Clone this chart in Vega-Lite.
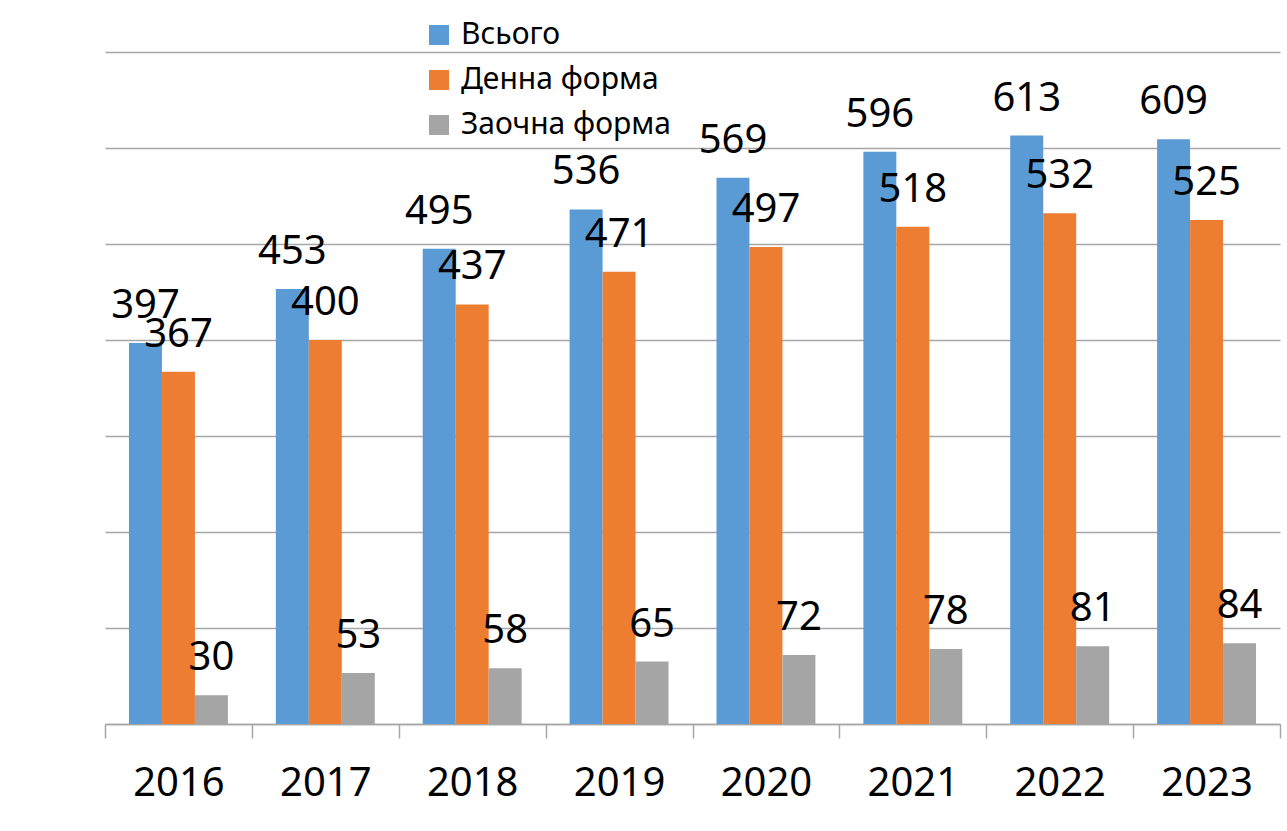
{
  "$schema": "https://vega.github.io/schema/vega-lite/v6.json",
  "autosize": {"type": "none"},
  "padding": {"left": 105, "top": 52, "right": 7, "bottom": 107},
  "width": 1175,
  "height": 672,
  "background": "white",
  "config": {
    "font": "Noto Sans",
    "view": {"stroke": null}
  },
  "data": {
    "values": [
      {"year": "2016", "series": "Всього", "value": 397},
      {"year": "2016", "series": "Денна форма", "value": 367},
      {"year": "2016", "series": "Заочна форма", "value": 30},
      {"year": "2017", "series": "Всього", "value": 453},
      {"year": "2017", "series": "Денна форма", "value": 400},
      {"year": "2017", "series": "Заочна форма", "value": 53},
      {"year": "2018", "series": "Всього", "value": 495},
      {"year": "2018", "series": "Денна форма", "value": 437},
      {"year": "2018", "series": "Заочна форма", "value": 58},
      {"year": "2019", "series": "Всього", "value": 536},
      {"year": "2019", "series": "Денна форма", "value": 471},
      {"year": "2019", "series": "Заочна форма", "value": 65},
      {"year": "2020", "series": "Всього", "value": 569},
      {"year": "2020", "series": "Денна форма", "value": 497},
      {"year": "2020", "series": "Заочна форма", "value": 72},
      {"year": "2021", "series": "Всього", "value": 596},
      {"year": "2021", "series": "Денна форма", "value": 518},
      {"year": "2021", "series": "Заочна форма", "value": 78},
      {"year": "2022", "series": "Всього", "value": 613},
      {"year": "2022", "series": "Денна форма", "value": 532},
      {"year": "2022", "series": "Заочна форма", "value": 81},
      {"year": "2023", "series": "Всього", "value": 609},
      {"year": "2023", "series": "Денна форма", "value": 525},
      {"year": "2023", "series": "Заочна форма", "value": 84}
    ]
  },
  "encoding": {
    "x": {
      "field": "year", "type": "nominal", "title": null,
      "scale": {"paddingInner": 0, "paddingOuter": 0},
      "axis": {
        "labelAngle": 0, "labelFontSize": 40, "labelColor": "black",
        "labelPadding": 25, "tickSize": 14, "tickColor": "#A6A6A6",
        "tickBand": "extent", "domainColor": "#A6A6A6", "domainWidth": 1.5, "tickWidth": 1.5,
        "grid": false
      }
    },
    "xOffset": {
      "field": "series", "type": "nominal",
      "sort": ["Всього", "Денна форма", "Заочна форма"],
      "scale": {"paddingInner": 0, "paddingOuter": 0.727}
    },
    "y": {
      "field": "value", "type": "quantitative", "title": null,
      "scale": {"domain": [0, 700], "nice": false},
      "axis": {
        "values": [0, 100, 200, 300, 400, 500, 600, 700],
        "labels": false, "ticks": false, "domain": false,
        "grid": true, "gridColor": "#A6A6A6", "gridWidth": 1.5
      }
    }
  },
  "layer": [
    {
      "mark": {"type": "bar"},
      "encoding": {
        "color": {
          "field": "series", "type": "nominal",
          "sort": ["Всього", "Денна форма", "Заочна форма"],
          "scale": {
            "domain": ["Всього", "Денна форма", "Заочна форма"],
            "range": ["#5B9BD5", "#ED7D31", "#A5A5A5"]
          },
          "legend": {
            "title": null, "orient": "none", "legendX": 319, "legendY": -32,
            "symbolType": "square", "symbolSize": 400, "symbolStrokeWidth": 0,
            "labelFontSize": 30, "labelColor": "black", "labelOffset": 7,
            "rowPadding": 15, "labelLimit": 400
          }
        }
      }
    },
    {
      "mark": {"type": "text", "fontSize": 40, "color": "black", "baseline": "alphabetic", "dy": -25},
      "encoding": {
        "text": {"field": "value", "type": "quantitative"}
      }
    }
  ]
}
